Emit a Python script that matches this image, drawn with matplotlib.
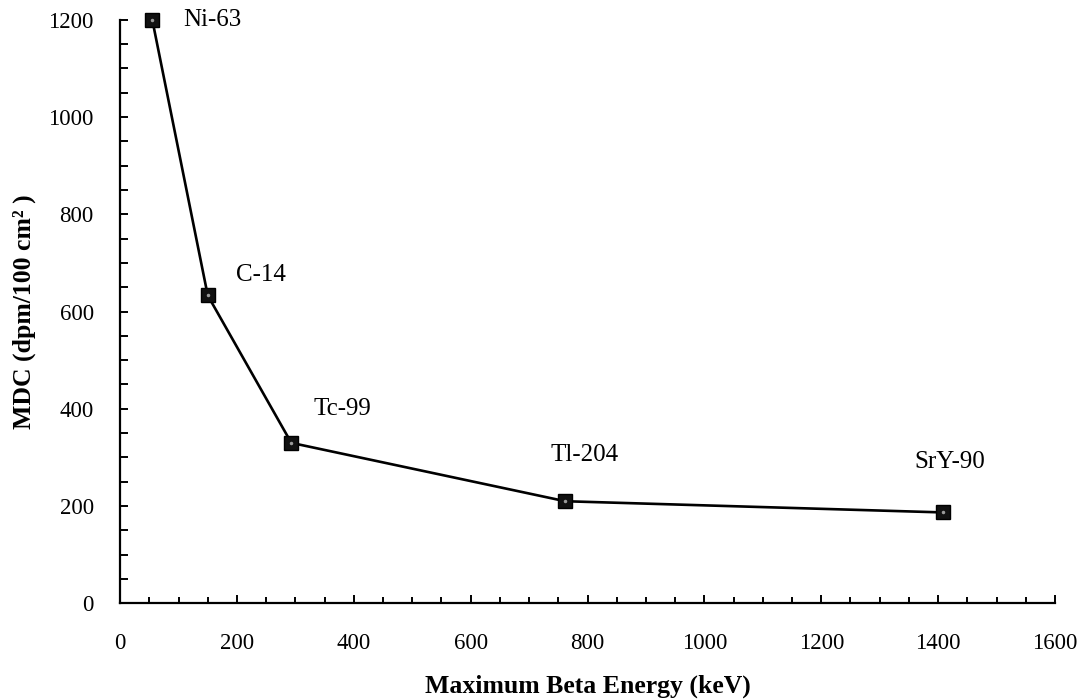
import numpy as np
import matplotlib.pyplot as plt
from matplotlib.ticker import MultipleLocator

# detection limit vs. max beta energy for each source
nuclides = ['Ni-63', 'C-14', 'Tc-99', 'Tl-204', 'SrY-90']
energy = [55, 150, 293, 762, 1408]
mdc = [1200, 633, 330, 210, 187]

# where each nuclide name sits (data coords, left edge / vertical centre)
label_x = [108, 199, 331, 737, 1359]
label_y = [1200, 676, 400, 306, 290]

plt.rcParams['font.family'] = ['Liberation Serif', 'DejaVu Serif']

fig = plt.figure(figsize=(10.82, 7.0), dpi=100, facecolor='white')
ax = fig.add_axes([0.111, 0.138, 0.864, 0.834])

ax.plot(energy, mdc, color='black', linewidth=1.9, marker='s',
        markersize=10.5, markerfacecolor='#111111', markeredgecolor='black',
        clip_on=False, zorder=3)
# speckle inside the square markers
ax.plot(energy, mdc, linestyle='none', marker='.', markersize=3,
        color='#9a9a9a', clip_on=False, zorder=4)

for name, lx, ly in zip(nuclides, label_x, label_y):
    ax.text(lx, ly, name, fontsize=18, ha='left', va='center')

ax.set_xlim(0, 1600)
ax.set_ylim(0, 1200)

ax.xaxis.set_major_locator(MultipleLocator(200))
ax.xaxis.set_minor_locator(MultipleLocator(50))
ax.yaxis.set_major_locator(MultipleLocator(200))
ax.yaxis.set_minor_locator(MultipleLocator(50))

ax.tick_params(axis='x', which='major', direction='in', length=6, width=1.4,
               pad=21, labelsize=16.5)
ax.tick_params(axis='x', which='minor', direction='in', length=4, width=1.4)
ax.tick_params(axis='y', which='major', direction='in', length=6, width=1.4,
               pad=19, labelsize=16.5)
ax.tick_params(axis='y', which='minor', direction='in', length=6, width=1.4)

for side in ['top', 'right']:
    ax.spines[side].set_visible(False)
for side in ['left', 'bottom']:
    ax.spines[side].set_linewidth(1.6)

ax.set_xlabel('Maximum Beta Energy (keV)', fontsize=18.5, fontweight='bold',
              labelpad=15)
ax.set_ylabel('MDC (dpm/100 cm² )', fontsize=18.5,
              fontweight='bold', labelpad=9)

fig.savefig('out.png', dpi=100, facecolor='white')
